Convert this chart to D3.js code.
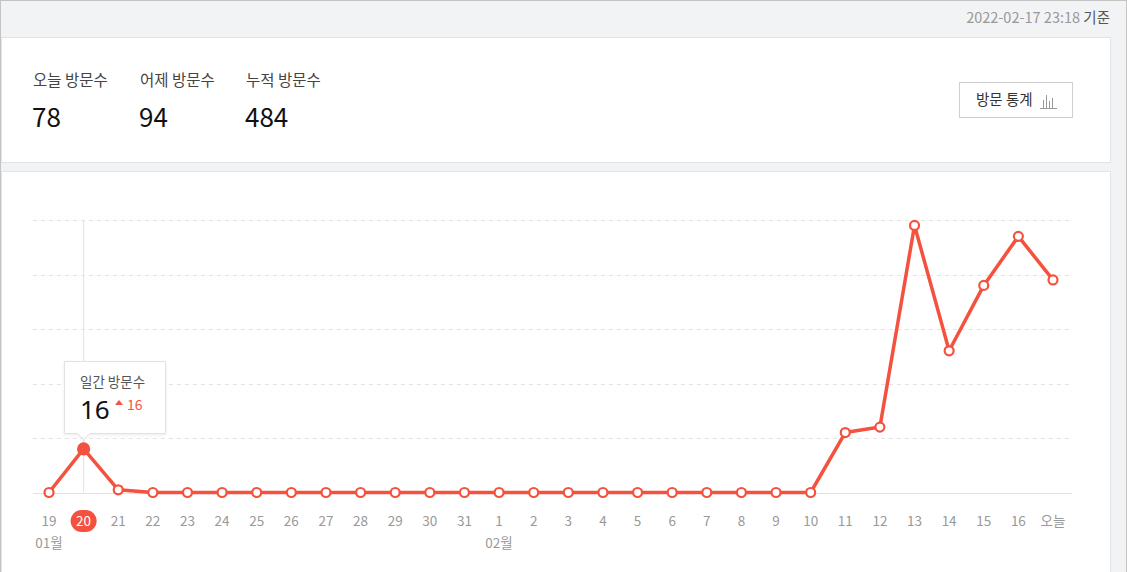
<!DOCTYPE html>
<html>
<head>
<meta charset="utf-8">
<script src="https://cdn.jsdelivr.net/npm/d3@7"></script>
<style>
  html, body { margin: 0; padding: 0; background: #fff; }
  svg { display: block; }
  text { font-family: "Noto Sans CJK KR", "Noto Sans", sans-serif; }
  text.num { font-family: "Noto Sans", sans-serif; }
</style>
</head>
<body>
<svg id="chart" width="1127" height="572"></svg>
<script>
// Daily visitor counts, 19 Jan .. today (17 Feb)
const dayLabels = ["19","20","21","22","23","24","25","26","27","28","29","30","31",
  "1","2","3","4","5","6","7","8","9","10","11","12","13","14","15","16","오늘"];
const visits = [0,16,1,0,0,0,0,0,0,0,0,0,0,
  0,0,0,0,0,0,0,0,0,0,22,24,98,52,76,94,78];
const monthLabels = [{ index: 0, text: "01월" }, { index: 13, text: "02월" }];
const gridTicks = [0, 20, 40, 60, 80, 100];
const summaryLabels = ["오늘 방문수", "어제 방문수", "누적 방문수"];
const summaryValues = [78, 94, 484];
const stamp = "2022-02-17 23:18";
const selectedIndex = 1;

const red = "#f4523f";
const svg = d3.select("#chart");

// page background and frame
svg.append("rect").attr("x", 0).attr("y", 0).attr("width", 1127).attr("height", 572).attr("fill", "#f2f3f5");
svg.append("rect").attr("x", 0.5).attr("y", 0.5).attr("width", 1126).attr("height", 575)
  .attr("fill", "none").attr("stroke", "#c4c4c4");

// timestamp
const ts = svg.append("text").attr("x", 1110).attr("y", 23).attr("text-anchor", "end")
  .attr("font-size", 14.5).attr("fill", "#999");
ts.append("tspan").text(stamp + " ");
ts.append("tspan").attr("fill", "#555").text("기준");

// summary card
svg.append("rect").attr("x", 1.5).attr("y", 37.5).attr("width", 1109).attr("height", 125)
  .attr("fill", "#fff").attr("stroke", "#e3e4e7");
const sumX = [33, 140, 246];
summaryLabels.forEach((t, i) => {
  svg.append("text").attr("x", sumX[i]).attr("y", 86).attr("font-size", 15.5).attr("fill", "#444").text(t);
  svg.append("text").attr("x", sumX[i] - 1).attr("y", 127).attr("font-size", 26).attr("fill", "#111").text(summaryValues[i]);
});

// stats button
const btn = svg.append("g");
btn.append("rect").attr("x", 959.5).attr("y", 82.5).attr("width", 113).attr("height", 35)
  .attr("fill", "#fff").attr("stroke", "#cfcfcf");
btn.append("text").attr("x", 976).attr("y", 105).attr("font-size", 14.5).attr("fill", "#333").text("방문 통계");
const icon = btn.append("g").attr("stroke", "#999").attr("stroke-width", 1).attr("fill", "none");
icon.append("path").attr("d", "M1040,108.5H1057 M1043.5,108V100 M1046.5,108V95 M1049.5,108V101 M1052.5,108V98");

// chart card
svg.append("rect").attr("x", 1.5).attr("y", 171.5).attr("width", 1109).attr("height", 410)
  .attr("fill", "#fff").attr("stroke", "#e3e4e7");

const x = d3.scalePoint().domain(d3.range(dayLabels.length)).range([49, 1053]);
const y = d3.scaleLinear().domain([0, 100]).range([492.5, 220]);

// grid
svg.append("g").selectAll("line").data(gridTicks).join("line")
  .attr("x1", 33).attr("x2", 1072)
  .attr("y1", d => Math.round(y(d)) + 0.5).attr("y2", d => Math.round(y(d)) + 0.5)
  .attr("stroke", d => d === 0 ? "#e2e2e2" : "#e4e4e4")
  .attr("stroke-dasharray", d => d === 0 ? null : "4,4");

// hover guide
svg.append("line").attr("x1", x(selectedIndex)).attr("x2", x(selectedIndex))
  .attr("y1", y(100)).attr("y2", y(0)).attr("stroke", "#e2e2e2");

// x axis labels
const xl = svg.append("g");
dayLabels.forEach((d, i) => {
  if (i === selectedIndex) {
    xl.append("rect").attr("x", x(i) - 13).attr("y", 510).attr("width", 26).attr("height", 22)
      .attr("rx", 11).attr("fill", red);
  }
  xl.append("text").attr("x", x(i)).attr("y", 526).attr("text-anchor", "middle")
    .attr("font-size", 13.5).attr("fill", i === selectedIndex ? "#fff" : "#999").text(d);
});
monthLabels.forEach(m => {
  xl.append("text").attr("x", x(m.index)).attr("y", 548).attr("text-anchor", "middle")
    .attr("font-size", 13.5).attr("fill", "#999").text(m.text);
});

// line and points
const line = d3.line().x((d, i) => x(i)).y(d => y(d));
svg.append("path").datum(visits).attr("d", line).attr("fill", "none")
  .attr("stroke", red).attr("stroke-width", 3.5).attr("stroke-linejoin", "round");
svg.append("g").selectAll("circle").data(visits).join("circle")
  .attr("cx", (d, i) => x(i)).attr("cy", d => y(d))
  .attr("r", (d, i) => i === selectedIndex ? 5.5 : 4.5)
  .attr("fill", (d, i) => i === selectedIndex ? red : "#fff")
  .attr("stroke", red).attr("stroke-width", 2.2);

// tooltip
const tx = x(selectedIndex);
const tip = svg.append("g");
const defs = svg.append("defs");
const f = defs.append("filter").attr("id", "sh").attr("x", "-20%").attr("y", "-20%").attr("width", "140%").attr("height", "150%");
f.append("feDropShadow").attr("dx", 0).attr("dy", 1).attr("stdDeviation", 1.5).attr("flood-color", "#000").attr("flood-opacity", 0.08);
tip.append("path")
  .attr("d", `M64.5,361.5H165.5V433.5H${tx + 6}L${tx},439.5L${tx - 6},433.5H64.5Z`)
  .attr("fill", "#fff").attr("stroke", "#e2e2e2").attr("filter", "url(#sh)");
tip.append("text").attr("x", 80).attr("y", 386.5).attr("font-size", 13.5).attr("fill", "#555").text("일간 방문수");
tip.append("text").attr("class", "num").attr("x", 80).attr("y", 419).attr("font-size", 26).attr("fill", "#111").text(visits[selectedIndex]);
tip.append("path").attr("d", "M115,405L119,400L123,405Z").attr("fill", red);
tip.append("text").attr("x", 127).attr("y", 409.5).attr("font-size", 14).attr("fill", red)
  .text(visits[selectedIndex] - visits[selectedIndex - 1]);
</script>
</body>
</html>
